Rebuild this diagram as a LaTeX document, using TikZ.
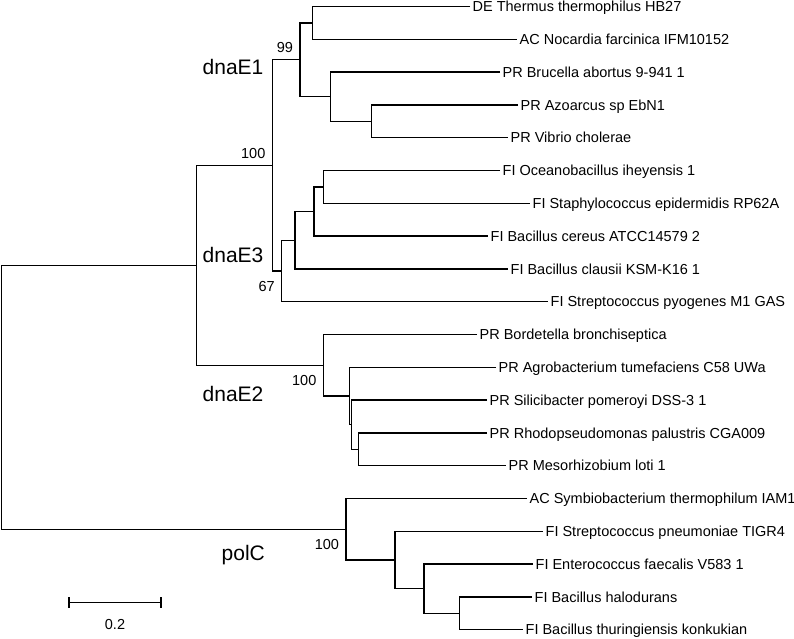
\documentclass[tikz,border=0pt]{standalone}
\usepackage{fontspec}
\setmainfont{Liberation Sans}
\begin{document}
\begin{tikzpicture}[x=1pt,y=-1pt,line width=1.3pt,
    taxon/.style={anchor=west,inner xsep=2pt,inner ysep=0pt,text height=10.4pt,text depth=0pt,font=\fontsize{14.5}{16}\selectfont},
    boot/.style={anchor=base east,inner sep=0pt,font=\fontsize{14.5}{16}\selectfont},
    clade/.style={anchor=base west,inner sep=0pt,font=\fontsize{21}{24}\selectfont}]
\useasboundingbox (0,0) rectangle (794,638);
\node[taxon] (l1) at (470,6.5) {DE Thermus thermophilus HB27};
\node[taxon] (l2) at (517,39.3) {AC Nocardia farcinica IFM10152};
\node[taxon] (l3) at (500,72.1) {PR Brucella abortus 9-941 1};
\node[taxon] (l4) at (518,104.9) {PR Azoarcus sp EbN1};
\node[taxon] (l5) at (508,137.7) {PR Vibrio cholerae};
\node[taxon] (l6) at (500,170.5) {FI Oceanobacillus iheyensis 1};
\node[taxon] (l7) at (530,203.3) {FI Staphylococcus epidermidis RP62A};
\node[taxon] (l8) at (488,236.1) {FI Bacillus cereus ATCC14579 2};
\node[taxon] (l9) at (508,268.9) {FI Bacillus clausii KSM-K16 1};
\node[taxon] (l10) at (548,301.7) {FI Streptococcus pyogenes M1 GAS};
\node[taxon] (l11) at (477,334.5) {PR Bordetella bronchiseptica};
\node[taxon] (l12) at (496,367.3) {PR Agrobacterium tumefaciens C58 UWa};
\node[taxon] (l13) at (487,400.1) {PR Silicibacter pomeroyi DSS-3 1};
\node[taxon] (l14) at (487,432.9) {PR Rhodopseudomonas palustris CGA009};
\node[taxon] (l15) at (506,465.7) {PR Mesorhizobium loti 1};
\node[taxon] (l16) at (527,498.5) {AC Symbiobacterium thermophilum IAM1};
\node[taxon] (l17) at (543,531.3) {FI Streptococcus pneumoniae TIGR4};
\node[taxon] (l18) at (533,564.1) {FI Enterococcus faecalis V583 1};
\node[taxon] (l19) at (532,596.9) {FI Bacillus halodurans};
\node[taxon] (l20) at (523,629.7) {FI Bacillus thuringiensis konkukian};
\coordinate (root) at (1.7,397.3);
\coordinate (dnae) at (196.7,265.3);
\coordinate (e1e3) at (272.3,165.4);
\coordinate (e1) at (300,59.8);
\coordinate (e1a) at (312.7,22.9);
\coordinate (e1b) at (330.7,96.7);
\coordinate (e1c) at (371.3,121.3);
\coordinate (e3) at (281.7,271);
\coordinate (e3a) at (295,240.2);
\coordinate (e3b) at (314,211.5);
\coordinate (e3c) at (323.3,186.9);
\coordinate (e2) at (323.3,365.25);
\coordinate (e2a) at (349.3,396);
\coordinate (e2b) at (351.7,424.7);
\coordinate (e2c) at (358.3,449.3);
\coordinate (pc) at (346,529.25);
\coordinate (pca) at (395,560);
\coordinate (pcb) at (424,588.7);
\coordinate (pcc) at (459.3,613.3);
\foreach \p/\a/\b in {root/dnae/pc,dnae/e1e3/e2,e1e3/e1/e3,
    e1/e1a/e1b,e1a/l1/l2,e1b/l3/e1c,e1c/l4/l5,
    e3/e3a/l10,e3a/e3b/l9,e3b/e3c/l8,e3c/l6/l7,
    e2/l11/e2a,e2a/l12/e2b,e2b/l13/e2c,e2c/l14/l15,
    pc/l16/pca,pca/l17/pcb,pcb/l18/pcc,pcc/l19/l20}
  \draw (\a) -| (\p) |- (\b);
\node[boot] (b99) at (293.6,52.7) {99};
\node[boot] (b100a) at (266,158.3) {100};
\node[boot] (b67) at (275.3,291.7) {67};
\node[boot] (b100b) at (317,385) {100};
\node[boot] (b100c) at (339.6,549.3) {100};
\node[clade] (cE1) at (202,74) {dnaE1};
\node[clade] (cE3) at (202,262.7) {dnaE3};
\node[clade] (cE2) at (202,401.7) {dnaE2};
\node[clade] (cpolC) at (221,560) {polC};
\coordinate (sbl) at (69,602.7);
\coordinate (sbr) at (161,602.7);
\draw ([yshift=5.5pt]sbl) -- ([yshift=-5.5pt]sbl) (sbl) -- (sbr)
  ([yshift=5.5pt]sbr) -- ([yshift=-5.5pt]sbr);
\node[boot,anchor=base] (sblab) at (115,629.3) {0.2};
\end{tikzpicture}
\end{document}
